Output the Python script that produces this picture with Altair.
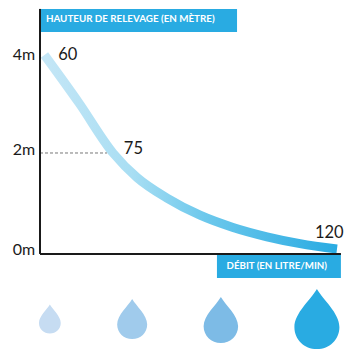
import altair as alt
import pandas as pd

curve_flow = [60.3, 67.35, 74.29, 79.18, 85.31, 92.04, 98.78, 105.71, 112.45, 120]
curve_height = [4.0, 3.02, 2.0, 1.5, 1.08, 0.73, 0.48, 0.29, 0.15, 0.04]

tick_labels = ["4m", "2m", "0m"]
tick_heights = [4.0, 2.07, 0.03]
point_labels = ["60", "75", "120"]
point_flow = [63.1, 76.5, 115.5]
point_heights = [4.0, 2.08, 0.37]

drop_flow = [61.4, 78.2, 96.3, 115.9]
drop_size = [841, 1600, 2116, 3600]
drop_colors = ["#c6dcf2", "#a0cbec", "#7dbbe6", "#29abe2"]
drop_height = [-1.39, -1.39, -1.41, -1.39]

AX_X = 59.39
AX_Y = -0.06
BLUE = "#29abe2"
FONT = "Lato"
DROP = ("M0,-1 C0.2,-0.65 0.75,-0.2 0.75,0.27 C0.75,0.68 0.42,1 0,1 "
        "C-0.42,1 -0.75,0.68 -0.75,0.27 C-0.75,-0.2 -0.2,-0.65 0,-1 Z")

xs = alt.Scale(domain=[52.857, 121.43], nice=False, zero=False)
ys = alt.Scale(domain=[-2.061, 4.959], nice=False, zero=False)
X = lambda f="x": alt.X(f, type="quantitative", scale=xs, axis=None)
Y = lambda f="y": alt.Y(f, type="quantitative", scale=ys, axis=None)

curve_df = pd.DataFrame({"x": curve_flow, "y": curve_height})
curve = alt.Chart(curve_df).mark_line(
    interpolate="monotone", strokeWidth=9, strokeCap="butt",
    stroke=alt.LinearGradient(
        gradient="linear", x1=0, x2=1, y1=0, y2=0,
        stops=[alt.GradientStop(offset=0, color="#c4e6f6"),
               alt.GradientStop(offset=0.3, color="#a8def3"),
               alt.GradientStop(offset=0.55, color="#6cc8ec"),
               alt.GradientStop(offset=1, color=BLUE)]),
).encode(x=X(), y=Y(), order=alt.Order("x:Q"))

boxes = pd.DataFrame({"x": [AX_X, 95.5], "x2": [99.6, 120.8],
                      "y": [4.94, AX_Y], "y2": [4.47, -0.55]})
rects = alt.Chart(boxes).mark_rect(color=BLUE).encode(x=X(), x2="x2", y=Y(), y2="y2")

axes_df = pd.DataFrame({"x": [AX_X, AX_X], "x2": [AX_X, 120.8],
                        "y": [4.94, AX_Y], "y2": [AX_Y, AX_Y]})
axes = alt.Chart(axes_df).mark_rule(color="#1a1a1a", strokeWidth=2).encode(
    x=X(), x2="x2", y=Y(), y2="y2")

dash_df = pd.DataFrame({"x": [AX_X], "x2": [73.06], "y": [2.0]})
dash = alt.Chart(dash_df).mark_rule(color="#777777", strokeWidth=1, strokeDash=[3, 2]).encode(
    x=X(), x2="x2", y=Y())

ticks_df = pd.DataFrame({"t": tick_labels, "x": [58.4] * 3, "y": tick_heights})
ticks = alt.Chart(ticks_df).mark_text(
    align="right", baseline="middle", font=FONT, fontSize=16, color="#1a1a1a"
).encode(x=X(), y=Y(), text="t:N")

pts_df = pd.DataFrame({"t": point_labels, "x": point_flow, "y": point_heights})
pts = alt.Chart(pts_df).mark_text(
    align="left", baseline="middle", font=FONT, fontSize=16.5, color="#1a1a1a"
).encode(x=X(), y=Y(), text="t:N")

head_df = pd.DataFrame({"t": ["HAUTEUR DE RELEVAGE (EN MÈTRE)"], "x": [60.6], "y": [4.73]})
head = alt.Chart(head_df).mark_text(
    align="left", baseline="middle", font=FONT, fontSize=9.8, fontWeight=700, color="white"
).encode(x=X(), y=Y(), text="t:N")

foot_df = pd.DataFrame({"t": ["DÉBIT (EN LITRE/MIN)"], "x": [107.7], "y": [-0.31]})
foot = alt.Chart(foot_df).mark_text(
    align="center", baseline="middle", font=FONT, fontSize=9.7, fontWeight=700, color="white"
).encode(x=X(), y=Y(), text="t:N")

drop_df = pd.DataFrame({"x": drop_flow, "y": drop_height, "s": drop_size, "c": drop_colors})
drops = alt.Chart(drop_df).mark_point(shape=DROP, filled=True, opacity=1, strokeWidth=0).encode(
    x=X(), y=Y(),
    size=alt.Size("s:Q", scale=None, legend=None),
    color=alt.Color("c:N", scale=None, legend=None),
)

chart = alt.layer(curve, rects, dash, axes, ticks, pts, head, foot, drops).properties(
    width=336, height=344, padding=0,
    autosize=alt.AutoSizeParams(type="none"),
).configure_view(stroke=None)

chart.save("out.html", embed_options={"renderer": "svg", "actions": False})
